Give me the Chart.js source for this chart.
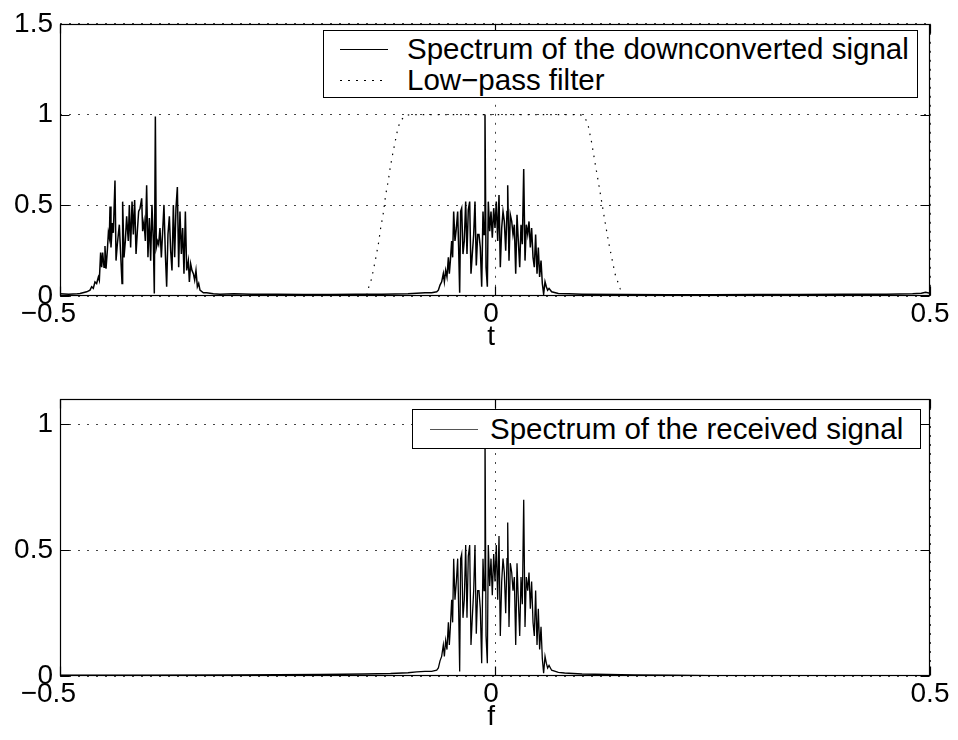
<!DOCTYPE html>
<html>
<head>
<meta charset="utf-8">
<script src="https://cdn.jsdelivr.net/npm/chart.js@4/dist/chart.umd.min.js"></script>
<style>
html,body{margin:0;padding:0;background:#fff;}
#wrap{position:relative;width:958px;height:740px;overflow:hidden;background:#fff;}
canvas{position:absolute;left:0;}
.legend{position:absolute;background:#fff;border:1px solid #000;font-family:"Liberation Sans",Arial,Helvetica,sans-serif;font-size:29.5px;color:#000;box-sizing:border-box;}
.row{position:absolute;left:0;right:0;height:32px;line-height:32px;white-space:nowrap;}
.sample{position:absolute;width:48px;top:16px;height:1px;}
.label{position:absolute;top:0;}
</style>
</head>
<body>
<div id="wrap">
  <canvas id="topChart" width="958" height="370" style="top:0"></canvas>
  <canvas id="bottomChart" width="958" height="370" style="top:370px"></canvas>
  <div class="legend" style="left:323px;top:30px;width:595px;height:68px">
    <div class="row" style="top:2px"><span class="sample" style="left:16px;background:#000"></span><span class="label" style="left:83px">Spectrum of the downconverted signal</span></div>
    <div class="row" style="top:33px"><span class="sample" style="left:16px;background:repeating-linear-gradient(90deg,#000 0 2px,transparent 2px 8px)"></span><span class="label" style="left:83px">Low−pass filter</span></div>
  </div>
  <div class="legend" style="left:412px;top:409px;width:509px;height:40px">
    <div class="row" style="top:3px"><span class="sample" style="left:17px;background:#555"></span><span class="label" style="left:77px">Spectrum of the received signal</span></div>
  </div>
</div>
<script>
// ---------- data ----------
const xTicks = [-0.5, 0, 0.5];
const xTickLabels = ['−0.5', '0', '0.5'];
const topYTicks = [0, 0.5, 1, 1.5];
const topYTickLabels = ['0', '0.5', '1', '1.5'];
const bottomYTicks = [0, 0.5, 1];
const bottomYTickLabels = ['0', '0.5', '1'];

// image of the signal near -0.38 (top panel)
const hump1Freq = [-0.4770,-0.4693,-0.4655,-0.4636,-0.4617,-0.4598,-0.4579,-0.4559,-0.4548,-0.4533,
  -0.4521,-0.4510,-0.4494,-0.4483,-0.4471,-0.4456,-0.4444,-0.4433,-0.4425,-0.4414,
  -0.4398,-0.4387,-0.4368,-0.4356,-0.4341,-0.4318,-0.4303,-0.4287,-0.4280,-0.4264,
  -0.4249,-0.4234,-0.4215,-0.4203,-0.4188,-0.4172,-0.4157,-0.4142,-0.4126,-0.4111,
  -0.4096,-0.4080,-0.4061,-0.4050,-0.4034,-0.4019,-0.4004,-0.3989,-0.3973,-0.3958,
  -0.3943,-0.3927,-0.3916,-0.3904,-0.3893,-0.3877,-0.3866,-0.3851,-0.3835,-0.3820,
  -0.3805,-0.3789,-0.3774,-0.3759,-0.3743,-0.3728,-0.3713,-0.3697,-0.3682,-0.3667,
  -0.3651,-0.3636,-0.3621,-0.3605,-0.3590,-0.3575,-0.3559,-0.3544,-0.3525,-0.3513,
  -0.3498,-0.3483,-0.3467,-0.3452,-0.3437,-0.3421,-0.3406,-0.3391,-0.3352,-0.3314,
  -0.3238,-0.3161];
const hump1Mag = [0.014,0.023,0.032,0.051,0.042,0.078,0.069,0.105,0.087,0.240,
  0.159,0.240,0.159,0.276,0.150,0.249,0.348,0.321,0.493,0.267,
  0.402,0.348,0.637,0.195,0.285,0.393,0.231,0.069,0.520,0.213,
  0.303,0.439,0.303,0.502,0.267,0.520,0.339,0.529,0.231,0.357,
  0.466,0.484,0.538,0.357,0.411,0.303,0.610,0.213,0.430,0.195,
  0.502,0.303,0.014,0.989,0.267,0.303,0.285,0.375,0.213,0.357,
  0.502,0.231,0.051,0.339,0.439,0.249,0.141,0.502,0.213,0.484,
  0.601,0.159,0.466,0.231,0.375,0.123,0.466,0.141,0.195,0.078,
  0.177,0.141,0.123,0.087,0.141,0.051,0.069,0.032,0.018,0.018,
  0.012,0.010];

// baseband copy around 0 (top panel, and the received-signal spectrum in the bottom panel)
const basebandFreq = [-0.0805,-0.0728,-0.0670,-0.0651,-0.0632,-0.0613,-0.0594,-0.0582,-0.0567,-0.0552,
  -0.0536,-0.0525,-0.0513,-0.0498,-0.0487,-0.0475,-0.0460,-0.0444,-0.0429,-0.0418,
  -0.0406,-0.0395,-0.0383,-0.0368,-0.0353,-0.0337,-0.0322,-0.0307,-0.0291,-0.0276,
  -0.0261,-0.0245,-0.0230,-0.0215,-0.0199,-0.0184,-0.0169,-0.0153,-0.0138,-0.0126,
  -0.0115,-0.0103,-0.0088,-0.0077,-0.0061,-0.0046,-0.0031,-0.0015,0.0000,0.0015,
  0.0031,0.0046,0.0061,0.0077,0.0092,0.0107,0.0123,0.0138,0.0146,0.0161,
  0.0176,0.0192,0.0207,0.0222,0.0238,0.0253,0.0268,0.0284,0.0299,0.0314,
  0.0330,0.0345,0.0360,0.0376,0.0391,0.0406,0.0421,0.0437,0.0452,0.0467,
  0.0483,0.0498,0.0513,0.0529,0.0544,0.0559,0.0575,0.0590,0.0605,0.0621,
  0.0651,0.0728];
const basebandMag = [0.018,0.018,0.023,0.032,0.060,0.078,0.123,0.078,0.141,0.105,
  0.213,0.123,0.195,0.303,0.213,0.466,0.303,0.375,0.466,0.267,
  0.018,0.466,0.484,0.231,0.303,0.520,0.231,0.475,0.520,0.123,
  0.231,0.339,0.520,0.168,0.339,0.339,0.267,0.051,0.466,0.339,
  1.000,0.159,0.051,0.520,0.357,0.466,0.321,0.484,0.375,0.520,
  0.303,0.556,0.159,0.375,0.466,0.411,0.249,0.466,0.610,0.195,
  0.448,0.411,0.339,0.393,0.123,0.448,0.303,0.159,0.393,0.285,
  0.700,0.195,0.393,0.339,0.411,0.267,0.375,0.213,0.159,0.339,
  0.123,0.267,0.105,0.195,0.069,0.011,0.078,0.051,0.032,0.042,
  0.023,0.014];

// noise floor of the downconverted spectrum (top panel)
const topFloorFreq = [-0.5,-0.49,-0.48,-0.30,-0.28,-0.25,-0.22,-0.19,-0.16,-0.13,-0.10,-0.09,
  0.085,0.10,0.15,0.20,0.25,0.30,0.35,0.40,0.45,0.48,0.49,0.495,0.5];
const topFloorMag = [0.012,0.010,0.012,0.012,0.010,0.009,0.008,0.008,0.009,0.010,0.012,0.015,
  0.012,0.010,0.008,0.007,0.007,0.008,0.008,0.009,0.010,0.012,0.015,0.020,0.015];

// noise floor of the received spectrum (bottom panel)
const bottomFloorFreq = [-0.5,-0.4,-0.3,-0.2,-0.15,-0.12,-0.10,-0.09,
  0.08,0.09,0.10,0.13,0.16,0.20,0.25,0.30,0.5];
const bottomFloorMag = [0.003,0.003,0.004,0.006,0.008,0.010,0.013,0.016,
  0.012,0.010,0.008,0.006,0.004,0.003,0.001,0.0,0.0];

// low-pass filter response
const filterFreq = [-0.5,-0.1475,-0.1456,-0.1418,-0.1380,-0.1341,-0.1314,-0.1284,-0.1257,-0.1226,
  -0.1207,-0.1180,-0.1150,-0.1123,-0.1092,-0.1034,-0.0977,0.0977,0.1034,0.1073,
  0.1111,0.1149,0.1188,0.1226,0.1264,0.1303,0.1341,0.1379,0.1437,0.1475,0.5];
const filterGain = [0,0,0.042,0.096,0.186,0.285,0.375,0.456,0.556,0.637,
  0.700,0.772,0.845,0.908,0.962,0.993,1.0,1.0,0.985,0.935,
  0.845,0.736,0.628,0.520,0.411,0.303,0.213,0.123,0.042,0,0];

// ---------- helpers ----------
function toPoints(fs, ms) { return fs.map((f, i) => ({x: f, y: ms[i]})); }
function merge() {
  let pts = [];
  for (let i = 0; i < arguments.length; i += 2) pts = pts.concat(toPoints(arguments[i], arguments[i + 1]));
  return pts.sort((a, b) => a.x - b.x);
}

const FONT = {family: '"Liberation Sans", Arial, Helvetica, sans-serif', size: 28};
// MATLAB-style label placement: left label sits slightly left of its tick
const xLabelPad = ['\u00a0\u00a0\u00a0', '\u00a0', ''];

const framePlugin = {
  id: 'frame',
  afterDatasetsDraw(chart) {
    const {ctx, chartArea: a, scales: {x, y}} = chart;
    ctx.save();
    ctx.strokeStyle = '#000';
    ctx.lineWidth = 1.2;
    ctx.setLineDash([]);
    const l = Math.round(a.left) + 0.5, t = Math.round(a.top) + 0.5;
    const r = Math.round(a.right) - 0.5, b = Math.round(a.bottom) - 0.5;
    ctx.strokeRect(l, t, r - l, b - t);
    const L = 9;
    ctx.beginPath();
    x.ticks.forEach(tk => {
      const px = Math.round(x.getPixelForValue(tk.value)) + 0.5;
      ctx.moveTo(px, b); ctx.lineTo(px, b - L);
      ctx.moveTo(px, t); ctx.lineTo(px, t + L);
    });
    y.ticks.forEach(tk => {
      const py = Math.round(y.getPixelForValue(tk.value)) + 0.5;
      ctx.moveTo(l, py); ctx.lineTo(l + L, py);
      ctx.moveTo(r, py); ctx.lineTo(r - L, py);
    });
    ctx.stroke();
    ctx.restore();
  }
};

function makeOptions(cfg) {
  return {
    responsive: false,
    animation: false,
    events: [],
    layout: {padding: {top: cfg.top, right: 28, left: 0, bottom: 0}},
    plugins: {legend: {display: false}, tooltip: {enabled: false}},
    elements: {point: {radius: 0}, line: {tension: 0}},
    scales: {
      x: {
        type: 'linear', min: -0.5, max: 0.5,
        afterBuildTicks: s => { s.ticks = xTicks.map(v => ({value: v})); },
        afterFit: s => { s.height = cfg.xh; },
        ticks: {
          autoSkip: false, maxRotation: 0, padding: cfg.tickPad, color: '#000', font: FONT,
          callback: (v) => { const i = xTicks.indexOf(v); return xTickLabels[i] + xLabelPad[i]; }
        },
        grid: {color: '#444', lineWidth: 1, drawTicks: false},
        border: {display: false, dash: [2, 7]},
        title: {display: true, text: cfg.xTitle + '\u00a0', color: '#000', font: FONT, padding: {top: 0, bottom: cfg.titlePad}}
      },
      y: {
        type: 'linear', min: 0, max: cfg.ymax,
        afterBuildTicks: s => { s.ticks = cfg.yTicks.map(v => ({value: v})); },
        afterFit: s => { s.width = 60; },
        ticks: {
          autoSkip: false, padding: 7, color: '#000', font: FONT,
          callback: (v) => cfg.yLabels[cfg.yTicks.indexOf(v)]
        },
        grid: {color: '#444', lineWidth: 1, drawTicks: false},
        border: {display: false, dash: [2, 7]}
      }
    }
  };
}

new Chart(document.getElementById('topChart'), {
  type: 'line',
  data: {
    datasets: [
      {label: 'Spectrum of the downconverted signal',
       data: merge(topFloorFreq, topFloorMag, hump1Freq, hump1Mag, basebandFreq, basebandMag),
       borderColor: '#000', borderWidth: 1.5, fill: false},
      {label: 'Low−pass filter',
       data: toPoints(filterFreq, filterGain),
       borderColor: '#000', borderWidth: 1.2, borderDash: [1.5, 6], fill: false}
    ]
  },
  options: makeOptions({top: 19, xh: 74, ymax: 1.5, yTicks: topYTicks, yLabels: topYTickLabels,
                        xTitle: 't', tickPad: 1, titlePad: 16}),
  plugins: [framePlugin]
});

new Chart(document.getElementById('bottomChart'), {
  type: 'line',
  data: {
    datasets: [
      {label: 'Spectrum of the received signal',
       data: merge(bottomFloorFreq, bottomFloorMag, basebandFreq, basebandMag),
       borderColor: '#000', borderWidth: 1.3, fill: false}
    ]
  },
  options: makeOptions({top: 29, xh: 64, ymax: 1.1, yTicks: bottomYTicks, yLabels: bottomYTickLabels,
                        xTitle: 'f', tickPad: 1, titlePad: 6}),
  plugins: [framePlugin]
});
</script>
</body>
</html>
